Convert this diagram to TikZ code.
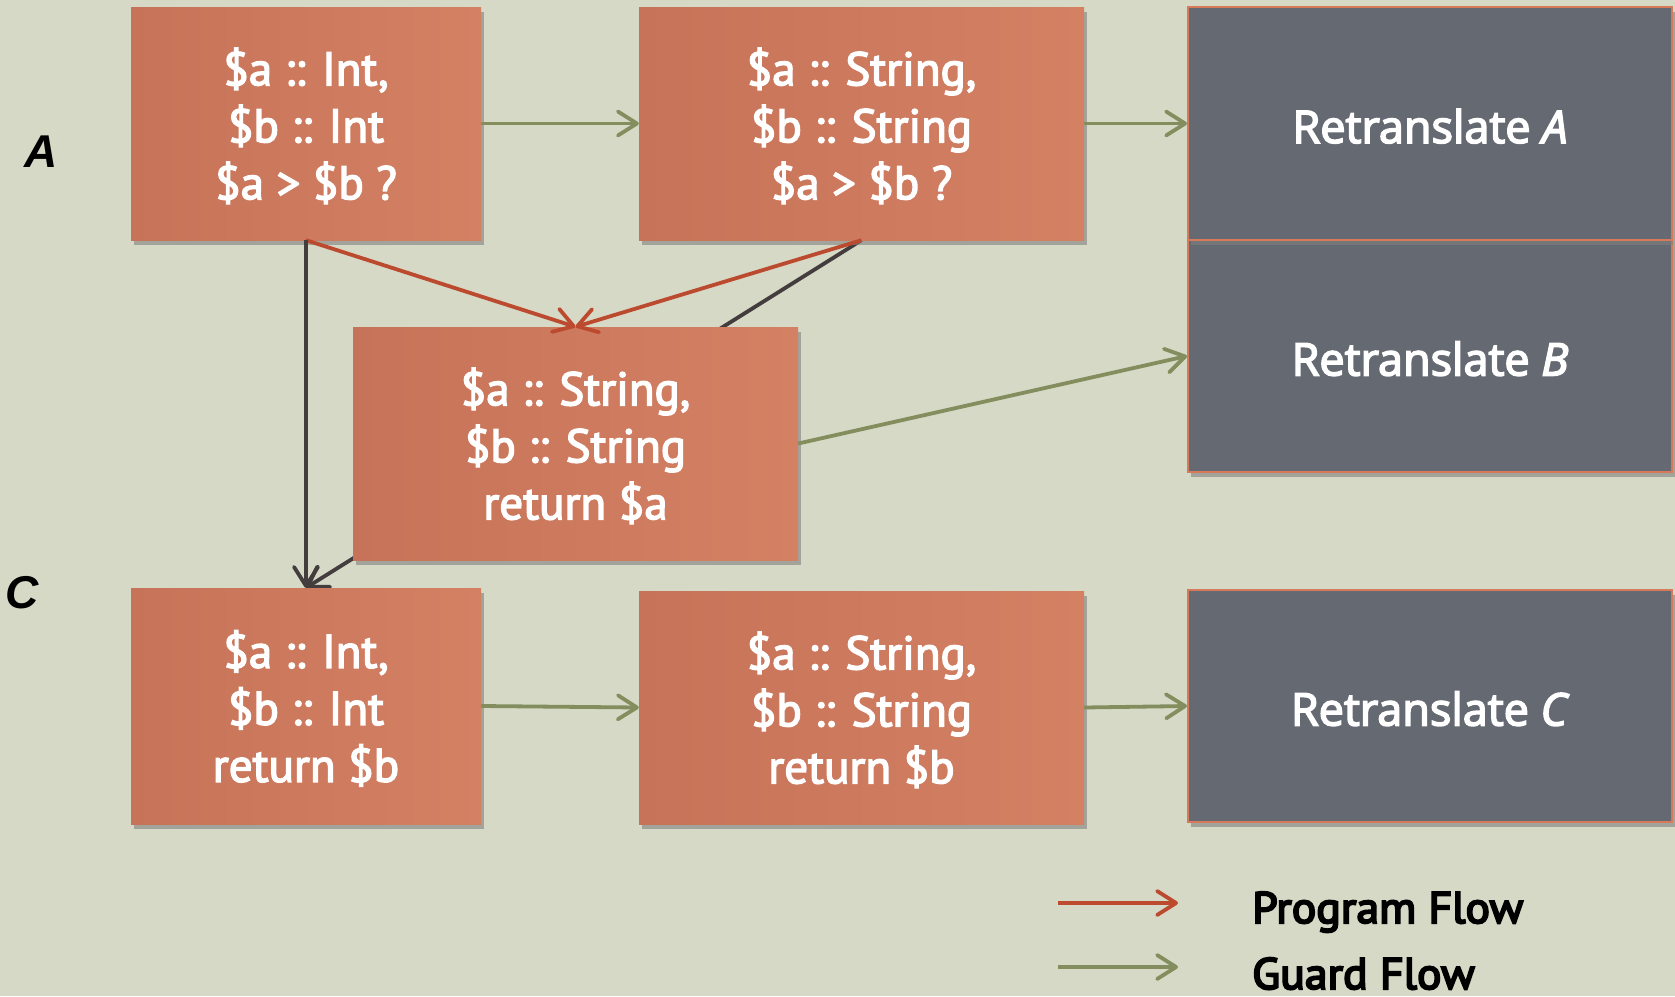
\documentclass[tikz,border=0pt]{standalone}
\usepackage{fontspec}
\setmainfont{PT Sans}
\newfontfamily\boxfont{PT Sans}[FakeBold=3]
\newfontfamily\retfont{Open Sans}[FakeBold=3.5]
\newfontfamily\legendfont{PT Sans}[FakeBold=4.5,FakeStretch=1.04]
\newfontfamily\lblfont{Liberation Sans}
\usetikzlibrary{arrows.meta,shadows}

\definecolor{bgcolor}{HTML}{D6D9C5}
\definecolor{boxdark}{HTML}{C77359}
\definecolor{boxlight}{HTML}{D48063}
\definecolor{retgray}{HTML}{656971}
\definecolor{retedge}{HTML}{D67A5A}
\definecolor{progred}{HTML}{BC4A2F}
\definecolor{guardgreen}{HTML}{838D5E}
\definecolor{jumpgray}{HTML}{443D3E}

\pgfdeclarelayer{bg}
\pgfdeclarelayer{back}
\pgfsetlayers{bg,back,main}

\begin{document}
\begin{tikzpicture}[x=1pt,y=-1pt,
  flow/.style={line width=3.8pt,
    -{Straight Barb[length=19pt,width=24pt,line cap=round,line join=round]}},
  prog/.style={flow,draw=progred},
  guard/.style={flow,draw=guardgreen},
  jump/.style={flow,draw=jumpgray},
  boxshadow/.style={drop shadow={shadow xshift=2.5pt,shadow yshift=-5pt,opacity=.6}},
  typebox/.style={rectangle,inner sep=0pt,left color=boxdark,right color=boxlight,
    text=white,align=center,font=\boxfont\fontsize{47}{57}\selectfont,
    text depth=0pt,boxshadow},
  retbox/.style={rectangle,inner sep=0pt,fill=retgray,draw=retedge,line width=2pt,
    text=white,font=\retfont\fontsize{45}{54}\selectfont,
    text height=39pt,text depth=0pt,minimum width=484pt,boxshadow},
  rowlabel/.style={font=\lblfont\bfseries\itshape\fontsize{46}{50}\selectfont,text=black},
  legendtext/.style={font=\legendfont\fontsize{44}{50}\selectfont,text=black,
    anchor=base west,inner sep=0pt}
]
\useasboundingbox (0,0) rectangle (1675,996);
\begin{pgfonlayer}{bg}
  \fill[bgcolor] (0,0) rectangle (1675,996);
\end{pgfonlayer}

% type-check boxes
\node[typebox,minimum width=350pt,minimum height=233pt] (b1) at (306,123.5)
  {\$a :: Int,\\ \$b :: Int\\ \$a > \$b ?};
\node[typebox,minimum width=445pt,minimum height=233pt] (b2) at (861.5,123.5)
  {\$a :: String,\\ \$b :: String\\ \$a > \$b ?};
\node[typebox,minimum width=445pt,minimum height=233pt] (m) at (575.5,443.5)
  {\$a :: String,\\ \$b :: String\\ return \$a};
\node[typebox,minimum width=350pt,minimum height=236pt] (b4) at (306,706)
  {\$a :: Int,\\ \$b :: Int\\ return \$b};
\node[typebox,minimum width=445pt,minimum height=233pt] (b5) at (861.5,707.5)
  {\$a :: String,\\ \$b :: String\\ return \$b};

% retranslation targets
\node[retbox,minimum height=232pt] (rB) at (1430,356) {Retranslate \textit{B}};
\node[retbox,minimum height=233pt] (rA) at (1430,123.5) {Retranslate \textit{A}};
\node[retbox,minimum height=232pt] (rC) at (1430,706) {Retranslate \textit{C}};

% row labels
\node[rowlabel] (lA) at (41,152) {A};
\node[rowlabel] (lC) at (22,593) {C};

% guard flow
\draw[guard] (b1.east) -- (b2.west);
\draw[guard] (b2.east) -- (rA.west);
\draw[guard] (m.east) -- (rB.west);
\draw[guard] (b4.east) -- (b5.west);
\draw[guard] (b5.east) -- (rC.west);

% program flow
\draw[prog] (b1.south) -- (m.north);
\draw[prog] (b2.south) -- (m.north);

% fall-through jumps
\begin{pgfonlayer}{back}
  \draw[jump] (b2.south) -- (b4.north);
\end{pgfonlayer}
\draw[jump] (b1.south) -- (b4.north);

% legend
\coordinate (pf0) at (1058,903);
\coordinate (pf1) at (1178,903);
\coordinate (gf0) at (1058,967);
\coordinate (gf1) at (1178,967);
\draw[prog] (pf0) -- (pf1);
\draw[guard] (gf0) -- (gf1);
\node[legendtext] (pft) at (1252,923) {Program Flow};
\node[legendtext] (gft) at (1252,989) {Guard Flow};
\end{tikzpicture}
\end{document}
